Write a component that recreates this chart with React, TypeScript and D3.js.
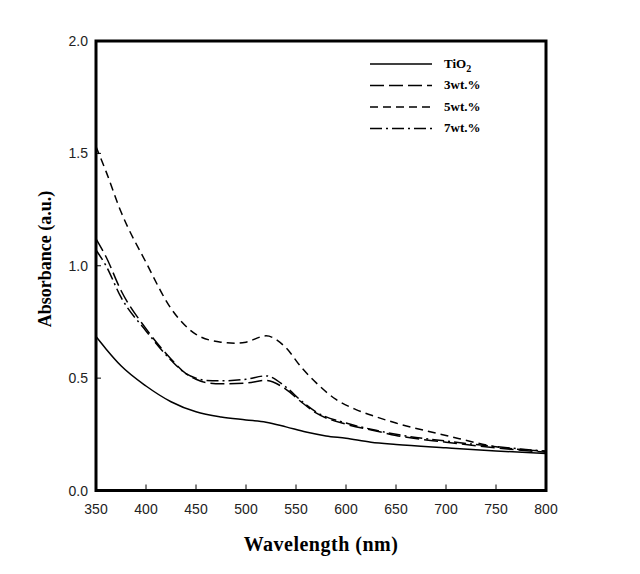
import * as d3 from 'd3'
import React from 'react'

// wavelength grid (nm) and absorbance
const wlTiO2 = [350, 360, 375, 400, 425, 450, 475, 500, 520, 540, 560, 580, 600, 625, 650, 700, 750, 800]
const absTiO2 = [0.685, 0.63, 0.555, 0.465, 0.395, 0.35, 0.327, 0.314, 0.304, 0.283, 0.26, 0.243, 0.232, 0.215, 0.205, 0.19, 0.176, 0.165]

const wl3 = [350, 360, 375, 400, 425, 440, 450, 460, 475, 500, 520, 540, 555, 570, 600, 630, 650, 700, 750, 800]
const abs3 = [1.12, 1.04, 0.89, 0.72, 0.585, 0.52, 0.495, 0.48, 0.475, 0.478, 0.49, 0.45, 0.395, 0.345, 0.295, 0.265, 0.245, 0.215, 0.19, 0.17]

const wl5 = [350, 360, 375, 400, 425, 450, 475, 490, 500, 520, 540, 555, 570, 590, 610, 630, 650, 700, 750, 800]
const abs5 = [1.53, 1.42, 1.24, 1.015, 0.81, 0.695, 0.66, 0.655, 0.66, 0.688, 0.635, 0.55, 0.48, 0.405, 0.36, 0.328, 0.3, 0.245, 0.195, 0.175]

const wl7 = [350, 360, 375, 400, 425, 440, 450, 460, 475, 500, 520, 540, 555, 570, 600, 630, 650, 700, 750, 800]
const abs7 = [1.07, 1.0, 0.86, 0.71, 0.58, 0.52, 0.5, 0.49, 0.488, 0.495, 0.51, 0.46, 0.4, 0.35, 0.3, 0.268, 0.25, 0.22, 0.195, 0.175]

const xTicks = [350, 400, 450, 500, 550, 600, 650, 700, 750, 800]
const yTicks = [0, 0.5, 1.0, 1.5, 2.0]

const series = [
  { name: 'TiO', sub: '2', x: wlTiO2, y: absTiO2, dash: '' },
  { name: '3wt.%', sub: '', x: wl3, y: abs3, dash: '14,5' },
  { name: '5wt.%', sub: '', x: wl5, y: abs5, dash: '8,5' },
  { name: '7wt.%', sub: '', x: wl7, y: abs7, dash: '12,4,2,4' },
]

const App = () => {
  const left = 96, right = 546, top = 41, bottom = 490.5

  const x = d3.scaleLinear().domain([350, 800]).range([left, right])
  const y = d3.scaleLinear().domain([0, 2]).range([bottom, top])

  const line = d3.line<[number, number]>()
    .x(d => x(d[0]))
    .y(d => y(d[1]))
    .curve(d3.curveMonotoneX)

  const sans = '"Liberation Sans", Arial, sans-serif'
  const serif = '"Liberation Serif", "Times New Roman", serif'

  return (
    <svg width={640} height={574} style={{ position: 'absolute', left: 0, top: 0, background: '#fff' }}>
      {series.map(s => (
        <path
          key={s.name}
          d={line(s.x.map((v, i) => [v, s.y[i]] as [number, number])) || ''}
          fill="none"
          stroke="#000"
          strokeWidth={1.5}
          strokeDasharray={s.dash}
        />
      ))}

      {xTicks.map(t => (
        <g key={'x' + t}>
          <line x1={x(t)} x2={x(t)} y1={bottom} y2={bottom - 6} stroke="#000" strokeWidth={1} />
          <text x={x(t)} y={514} textAnchor="middle" fontFamily={sans} fontSize={14} fill="#222">{t}</text>
        </g>
      ))}
      {yTicks.map(t => (
        <g key={'y' + t}>
          <line x1={left} x2={left + 5} y1={y(t)} y2={y(t)} stroke="#000" strokeWidth={1} />
          <text x={88} y={y(t)} dy="0.36em" textAnchor="end" fontFamily={sans} fontSize={14} fill="#222">{t.toFixed(1)}</text>
        </g>
      ))}

      <rect x={left} y={top} width={right - left} height={bottom - top} fill="none" stroke="#000" strokeWidth={3} />

      {series.map((s, i) => {
        const ly = 64 + i * 21.5
        return (
          <g key={'leg' + s.name}>
            <line x1={370} x2={432} y1={ly} y2={ly} stroke="#000" strokeWidth={1.5} strokeDasharray={s.dash} />
            <text x={444} y={ly} dy="0.3em" fontFamily={serif} fontWeight="bold" fontSize={13}>
              {s.name}
              {s.sub && <tspan fontSize={10} dy={4}>{s.sub}</tspan>}
            </text>
          </g>
        )
      })}

      <text x={321} y={551} textAnchor="middle" fontFamily={serif} fontWeight="bold" fontSize={20} letterSpacing={0.5}>Wavelength (nm)</text>
      <text transform="translate(51,259) rotate(-90)" textAnchor="middle" fontFamily={serif} fontWeight="bold" fontSize={18}>Absorbance (a.u.)</text>
    </svg>
  )
}

export default App
